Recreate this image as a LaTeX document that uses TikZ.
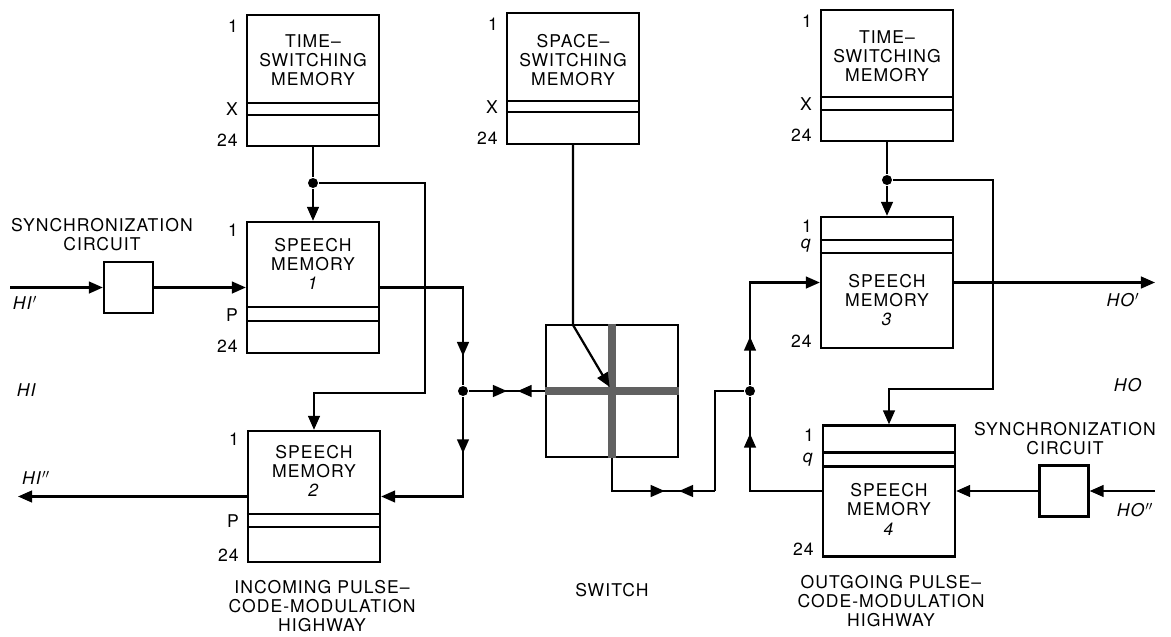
\documentclass[tikz,border=0pt]{standalone}
\usepackage{fontspec}
\setmainfont{TeX Gyre Heros}[LetterSpace=6]
\usetikzlibrary{arrows.meta,positioning,calc,decorations.markings}

\begin{document}
\begin{tikzpicture}[x=0.03cm, y=-0.03cm, line width=1.9pt,
      font=\fontsize{15}{16.3}\selectfont,
      mem/.style={rectangle, draw, minimum width=3.96cm, minimum height=3.93cm, inner sep=0pt},
      syn/.style={rectangle, draw, minimum width=1.47cm, minimum height=1.53cm, inner sep=0pt},
      txt/.style={align=center, inner sep=0pt},
      row/.style={anchor=east, inner sep=0pt},
      dot/.style={circle, fill, inner sep=0pt, minimum size=0.3cm},
      tip/.style={-{Triangle[length=12pt,width=10pt]}},
      midarrow/.style={postaction={decorate}, decoration={markings,
          mark=at position #1 with {\arrow{Triangle[length=12pt,width=10pt]}}}},
      bowtie/.style 2 args={postaction={decorate}, decoration={markings,
          mark=at position #1 with {\arrow{Triangle[length=12pt,width=10pt]}},
          mark=at position #2 with {\arrowreversed{Triangle[length=12pt,width=10pt]}}}},
      cross/.style={line width=6.5pt, black!62}]
    \useasboundingbox (0,0) rectangle (1171,636);

    % memories
    \node[mem] (tsa) at (313,80.5) {};
    \node[mem] (ssm) at (573,78.5) {};
    \node[mem] (tsb) at (887,75.5) {};
    \node[mem] (sm1) at (313,287.5) {};
    \node[mem] (sm2) at (314,496.5) {};
    \node[mem] (sm3) at (887,282.5) {};
    \node[mem] (sm4) at (889,491) {};

    \draw ($(tsa.north west)+(0,89)$) -- ($(tsa.north east)+(0,89)$);
    \draw ($(tsa.north west)+(0,101)$) -- ($(tsa.north east)+(0,101)$);
    \draw ($(ssm.north west)+(0,89)$) -- ($(ssm.north east)+(0,89)$);
    \draw ($(ssm.north west)+(0,100)$) -- ($(ssm.north east)+(0,100)$);
    \draw ($(tsb.north west)+(0,88)$) -- ($(tsb.north east)+(0,88)$);
    \draw ($(tsb.north west)+(0,101)$) -- ($(tsb.north east)+(0,101)$);
    \draw ($(sm1.north west)+(0,86)$) -- ($(sm1.north east)+(0,86)$);
    \draw ($(sm1.north west)+(0,100)$) -- ($(sm1.north east)+(0,100)$);
    \draw ($(sm2.north west)+(0,84)$) -- ($(sm2.north east)+(0,84)$);
    \draw ($(sm2.north west)+(0,97)$) -- ($(sm2.north east)+(0,97)$);
    \draw ($(sm3.north west)+(0,24)$) -- ($(sm3.north east)+(0,24)$);
    \draw ($(sm3.north west)+(0,37)$) -- ($(sm3.north east)+(0,37)$);
    \draw ($(sm4.north west)+(0,28)$) -- ($(sm4.north east)+(0,28)$);
    \draw ($(sm4.north west)+(0,42)$) -- ($(sm4.north east)+(0,42)$);

    \node[txt] (tsa-t) at ($(tsa.north)+(0,46)$) {TIME--\\SWITCHING\\MEMORY};
    \node[txt] (ssm-t) at ($(ssm.north)+(0,48)$) {SPACE--\\SWITCHING\\MEMORY};
    \node[txt] (tsb-t) at ($(tsb.north)+(0,47)$) {TIME--\\SWITCHING\\MEMORY};
    \node[txt] (sm1-t) at ($(sm1.north)+(0,43)$) {SPEECH\\MEMORY\\\textit{1}};
    \node[txt] (sm2-t) at ($(sm2.north)+(0,41)$) {SPEECH\\MEMORY\\\textit{2}};
    \node[txt] (sm3-t) at ($(sm3.north)+(0,84)$) {SPEECH\\MEMORY\\\textit{3}};
    \node[txt] (sm4-t) at ($(sm4.north)+(0,85)$) {SPEECH\\MEMORY\\\textit{4}};

    % row numbers
    \node[row] (tsa-1) at ($(tsa.north west)+(-7,12)$) {1};
    \node[row] (tsa-x) at ($(tsa.north west)+(-7,95)$) {X};
    \node[row] (tsa-n) at ($(tsa.south west)+(-7,-7)$) {24};
    \node[row] (ssm-1) at ($(ssm.north west)+(-7,12)$) {1};
    \node[row] (ssm-x) at ($(ssm.north west)+(-7,95)$) {X};
    \node[row] (ssm-n) at ($(ssm.south west)+(-7,-7)$) {24};
    \node[row] (tsb-1) at ($(tsb.north west)+(-7,12)$) {1};
    \node[row] (tsb-x) at ($(tsb.north west)+(-7,95)$) {X};
    \node[row] (tsb-n) at ($(tsb.south west)+(-7,-7)$) {24};
    \node[row] (sm1-1) at ($(sm1.north west)+(-7,9)$) {1};
    \node[row] (sm1-p) at ($(sm1.north west)+(-7,94)$) {P};
    \node[row] (sm1-n) at ($(sm1.south west)+(-7,-8)$) {24};
    \node[row] (sm2-1) at ($(sm2.north west)+(-7,9)$) {1};
    \node[row] (sm2-p) at ($(sm2.north west)+(-7,91)$) {P};
    \node[row] (sm2-n) at ($(sm2.south west)+(-7,-8)$) {24};
    \node[row] (sm3-1) at ($(sm3.north west)+(-7,10)$) {1};
    \node[row] (sm3-q) at ($(sm3.north west)+(-7,30)$) {\textit{q}};
    \node[row] (sm3-n) at ($(sm3.south west)+(-7,-8)$) {24};
    \node[row] (sm4-1) at ($(sm4.north west)+(-7,11)$) {1};
    \node[row] (sm4-q) at ($(sm4.north west)+(-7,35)$) {\textit{q}};
    \node[row] (sm4-n) at ($(sm4.south west)+(-7,-8)$) {24};

    % synchronization circuits and switch
    \node[syn] (syna) at (128.5,287.5) {};
    \node[syn] (synb) at (1064,491) {};
    \node[txt] (syna-t) at (102,235) {SYNCHRONIZATION\\CIRCUIT};
    \node[txt] (synb-t) at (1065,439) {SYNCHRONIZATION\\CIRCUIT};
    \node[rectangle, draw, minimum width=3.96cm, minimum height=3.96cm, inner sep=0pt] (sw) at (612,391) {};
    \draw[cross] (sw.north) -- (sw.south);
    \draw[cross] (sw.west) -- (sw.east);

    % junctions and bends
    \node[dot] (ja) at (313,183) {};
    \node[dot] (jb) at (463,391) {};
    \node[dot] (jc) at (750,391) {};
    \node[dot] (jd) at (887,180) {};
    \coordinate (abend) at (425,393);
    \coordinate (dbend) at (993,389);
    \coordinate (sbend) at (573,325);
    \coordinate (rlow) at (715,491);
    \coordinate (hiin) at (10,287.5);
    \coordinate (hiout) at (18,496.5);
    \coordinate (hoout) at (1155,282.5);
    \coordinate (hoin) at (1155,491);

    % highways
    \draw[tip] (hiin) -- (syna.west);
    \draw[tip] (syna.east) -- (sm1.west);
    \draw[tip] (sm2.west) -- (hiout);
    \draw[tip] (sm3.east) -- (hoout);
    \draw[tip] (hoin) -- (synb.east);
    \draw[tip] (synb.west) -- (sm4.east);

    % control
    \draw (tsa.south) -- (ja);
    \draw[tip] (ja) -- (sm1.north);
    \draw[tip] (ja) -| (abend) -| (sm2.north);
    \draw (tsb.south) -- (jd);
    \draw[tip] (jd) -- (sm3.north);
    \draw[tip] (jd) -| (dbend) -| (sm4.north);
    \draw[tip, shorten >=4pt] (ssm.south) -- (sbend) -- (sw.center);

    % through the switch
    \draw[midarrow=0.84] (sm1.east) -| (jb);
    \draw[tip, midarrow=0.31] (jb) |- (sm2.east);
    \draw[bowtie={0.5}{0.64}] (jb) -- (sw.west);
    \draw[bowtie={0.63}{0.735}] (sw.south) |- (rlow);
    \draw (rlow) |- (jc);
    \draw[tip, midarrow=0.28] (jc) |- (sm3.west);
    \draw[midarrow=0.78] (sm4.west) -| (jc);

    % labels
    \node[txt] (hi1) at (25,303) {\textit{HI}$'$};
    \node[txt] (hi) at (27,390) {\textit{HI}};
    \node[txt] (hi2) at (36,478) {\textit{HI}$''$};
    \node[txt] (ho1) at (1123,300) {\textit{HO}$'$};
    \node[txt] (ho) at (1128,385) {\textit{HO}};
    \node[txt] (ho2) at (1135,510) {\textit{HO}$''$};
    \node[txt] (inc) at (322,606) {INCOMING PULSE--\\CODE-MODULATION\\HIGHWAY};
    \node[txt] (swl) at (612,590) {SWITCH};
    \node[txt] (out) at (891,601) {OUTGOING PULSE--\\CODE-MODULATION\\HIGHWAY};
  \end{tikzpicture}
\end{document}
